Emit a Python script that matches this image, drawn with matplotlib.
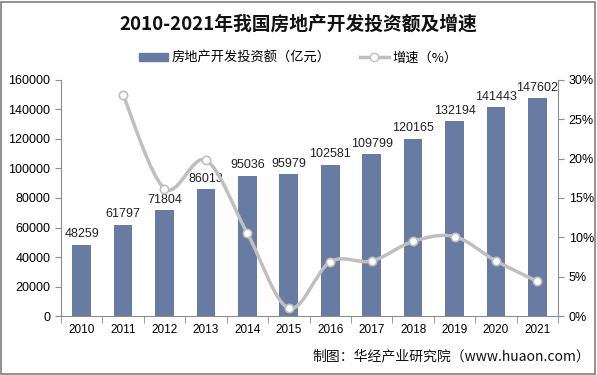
import numpy as np
import matplotlib.pyplot as plt
from matplotlib.path import Path
from matplotlib.patches import PathPatch, Patch
from matplotlib.lines import Line2D

plt.rcParams['font.family'] = ['Noto Sans CJK SC', 'DejaVu Sans']

years = ['2010', '2011', '2012', '2013', '2014', '2015', '2016', '2017', '2018', '2019', '2020', '2021']
invest = [48259, 61797, 71804, 86013, 95036, 95979, 102581, 109799, 120165, 132194, 141443, 147602]
growth_years = years[1:]
growth = [28.1, 16.2, 19.8, 10.5, 1.0, 6.9, 7.0, 9.5, 10.1, 7.0, 4.4]

bar_c = '#687ba2'
line_c = '#bfbfbf'
axis_c = '#8c8c8c'
num_font = ['Liberation Sans', 'DejaVu Sans']

fig = plt.figure(figsize=(5.97, 3.75), dpi=100)
ax = fig.add_axes([0.102, 0.157, 0.833, 0.630])
x = np.arange(len(years))
ax.bar(x, invest, width=0.45, color=bar_c, zorder=2)
for xi, v in zip(x, invest):
    ax.text(xi, v + 3000, str(v), ha='center', va='bottom', fontsize=9, family=num_font, color='#222222')
ax.set_xlim(-0.5, len(years) - 0.5)
ax.set_ylim(0, 160000)
ax.set_yticks(np.arange(0, 160001, 20000))
ax.set_xticks(x)
ax.set_xticklabels(years)
ax.set_xticks(np.arange(-0.5, len(years), 1), minor=True)
ax.tick_params(axis='x', which='major', length=0, pad=6)
ax.tick_params(axis='x', which='minor', length=5, color=axis_c, direction='out')
ax.tick_params(axis='y', length=4, color=axis_c)
for lab in ax.get_xticklabels():
    lab.set_family(num_font)
    lab.set_fontsize(8.5)
for lab in ax.get_yticklabels():
    lab.set_family(num_font)
    lab.set_fontsize(9)
for s in ['top', 'right']:
    ax.spines[s].set_visible(False)
for s in ['left', 'bottom']:
    ax.spines[s].set_color(axis_c)

ax2 = ax.twinx()
ax2.set_ylim(0, 30)
ax2.set_yticks(np.arange(0, 31, 5))
ax2.set_yticklabels([f'{t}%' for t in range(0, 31, 5)])
ax2.tick_params(axis='y', length=4, color=axis_c)
for lab in ax2.get_yticklabels():
    lab.set_family(num_font)
    lab.set_fontsize(9)
for s in ['top', 'left', 'bottom']:
    ax2.spines[s].set_visible(False)
ax2.spines['right'].set_color(axis_c)

# smooth line through the points (Catmull-Rom -> bezier, like excel smoothing)
gx = np.array([years.index(y) for y in growth_years], dtype=float)
gy = np.array(growth, dtype=float)
pts = np.column_stack([gx, gy])
verts = [pts[0]]
codes = [Path.MOVETO]
n = len(pts)
for i in range(n - 1):
    p0 = pts[max(i - 1, 0)]
    p1 = pts[i]
    p2 = pts[i + 1]
    p3 = pts[min(i + 2, n - 1)]
    verts += [p1 + (p2 - p0) / 6.0, p2 - (p3 - p1) / 6.0, p2]
    codes += [Path.CURVE4] * 3
ax2.add_patch(PathPatch(Path(verts, codes), fill=False, edgecolor=line_c, lw=2.5, zorder=3))
ax2.plot(gx, gy, linestyle='none', marker='o', markersize=6, markerfacecolor='white',
         markeredgecolor=line_c, markeredgewidth=1.2, zorder=4)

fig.text(0.5, 0.935, '2010-2021年我国房地产开发投资额及增速', ha='center', va='center',
         fontsize=13.5, fontweight='bold', color='#111111')
handles = [Patch(color=bar_c),
           Line2D([], [], color=line_c, lw=2.5, marker='o', markersize=6,
                  markerfacecolor='white', markeredgecolor=line_c)]
fig.legend(handles, ['房地产开发投资额（亿元）', '增速（%）'], loc='center', bbox_to_anchor=(0.5, 0.845),
           ncol=2, frameon=False, fontsize=9.5, handlelength=2.2, handleheight=0.6, columnspacing=2.2,
           handletextpad=0.3)

fig.text(0.988, 0.05, '制图：华经产业研究院（www.huaon.com）', ha='right', va='center', fontsize=10, color='#111111')

fig.patches.append(plt.Rectangle((0.002, 0.004), 0.995, 0.99, transform=fig.transFigure,
                                 fill=False, edgecolor='#7f7f7f', lw=1.2))
fig.savefig('out.png', dpi=100)
